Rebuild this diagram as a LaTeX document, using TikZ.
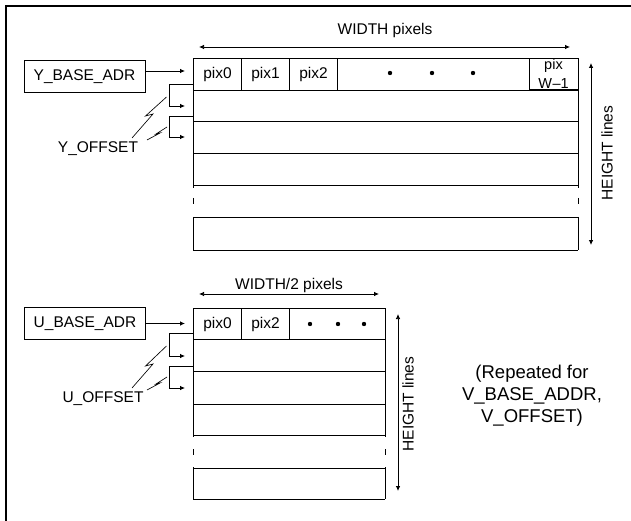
\documentclass[tikz,border=0pt]{standalone}
\usepackage{fontspec}
\setmainfont{Liberation Sans}
\usetikzlibrary{arrows.meta}
\begin{document}
\begin{tikzpicture}[x=1pt,y=-1pt,
  every node/.style={font=\fontsize{15.5}{18}\selectfont, inner sep=0pt},
  ln/.style={line width=1pt},
  cell/.style={draw, ln, anchor=north west, minimum height=32pt},
  basebox/.style={draw, ln, minimum width=121pt, minimum height=32pt},
  arr/.style={line width=0.75pt, -{Latex[length=5pt,width=4.5pt]}},
  darr/.style={line width=0.75pt, {Latex[length=5pt,width=4.5pt]}-{Latex[length=5pt,width=4.5pt]}},
  bolt/.style={line width=0.65pt},
  dotm/.style={fill=black}
]
\useasboundingbox (0,0) rectangle (631,521);
% outer frame
\draw[line width=1.3pt] (6,521) -- (6,6) -- (631,6);

% ================= Y plane =================
\coordinate (ywl) at (199,47);
\coordinate (ywr) at (570,47);
\draw[darr] (ywl) -- (ywr);
\node (ywidth) at (385,30) {WIDTH pixels};

\node[cell, minimum width=48pt] (y0) at (193,58) {pix0};
\node[cell, minimum width=48pt] (y1) at (241,58) {pix1};
\node[cell, minimum width=48pt] (y2) at (289,58) {pix2};
\node[cell, minimum width=192pt] (ydots) at (337,58) {};
\node[cell, minimum width=49pt] (yw) at (529,58) {};
\node[font=\fontsize{14.5}{16}\selectfont] (ywa) at (553.5,66) {pix};
\node[font=\fontsize{14.5}{16}\selectfont] (ywb) at (553.5,84) {W\kern0.5pt--1};
\draw[ln] (529,90) -- (578,90);
\foreach \x in {390,432,473} \fill[dotm] (\x,73) circle (2.2pt);

% rows
\draw[ln] (193,90) -- (193,188);
\draw[ln] (193,198) -- (193,204);
\draw[ln] (193,217) -- (193,250);
\draw[ln] (578,90) -- (578,188);
\draw[ln] (578,198) -- (578,204);
\draw[ln] (578,217) -- (578,250);
\foreach \y in {122,154,186,218,250} \draw[ln] (193,\y) -- (578,\y);

\node[basebox] (ybase) at (84.5,77) {Y\_BASE\_ADR};
\coordinate (yb0) at (185,71);
\draw[arr] (ybase.east |- yb0) -- (yb0);

\coordinate (yo1s) at (193,84);
\coordinate (yo1e) at (185,106);
\draw[arr] (yo1s) -| (169,106) -- (yo1e);
\coordinate (yo2s) at (193,116);
\coordinate (yo2e) at (185,137);
\draw[arr] (yo2s) -| (169,137) -- (yo2e);

\node (yoff) at (98,149) {Y\_OFFSET};
\draw[bolt] (132,138) -- (153,114) -- (145.5,116) -- (166.5,97);
\draw[bolt] (147,140) -- (160,133) -- (156,134) -- (167,127);

\coordinate (yht) at (591,63);
\coordinate (yhb) at (591,245);
\draw[darr] (yht) -- (yhb);
\node[rotate=90] (yhl) at (607,153) {HEIGHT lines};

% ================= U plane =================
\coordinate (uwl) at (199,294);
\coordinate (uwr) at (379,294);
\draw[darr] (uwl) -- (uwr);
\node (uwidth) at (289,285) {WIDTH/2 pixels};

\node[cell, minimum width=48pt, minimum height=31pt] (u0) at (193,308) {pix0};
\node[cell, minimum width=48pt, minimum height=31pt] (u2) at (241,308) {pix2};
\node[cell, minimum width=96pt, minimum height=31pt] (udots) at (289,308) {};
\foreach \x in {310,338,364} \fill[dotm] (\x,324) circle (2.2pt);

\draw[ln] (193,339) -- (193,437);
\draw[ln] (193,449) -- (193,455);
\draw[ln] (193,467) -- (193,499);
\draw[ln] (385,339) -- (385,437);
\draw[ln] (385,449) -- (385,455);
\draw[ln] (385,467) -- (385,499);
\foreach \y in {371,404,435,468,499} \draw[ln] (193,\y) -- (385,\y);

\node[basebox] (ubase) at (85,323.5) {U\_BASE\_ADR};
\coordinate (ub0) at (185,323.5);
\draw[arr] (ubase.east) -- (ub0);

\coordinate (uo1s) at (193,333);
\coordinate (uo1e) at (185,356);
\draw[arr] (uo1s) -| (169,356) -- (uo1e);
\coordinate (uo2s) at (193,366);
\coordinate (uo2e) at (185,388);
\draw[arr] (uo2s) -| (169,388) -- (uo2e);

\node (uoff) at (103,399) {U\_OFFSET};
\draw[bolt] (132,388) -- (153,364) -- (145.5,366) -- (166.5,346);
\draw[bolt] (147,390) -- (160,383) -- (156,384) -- (167,377);

\coordinate (uht) at (398,314);
\coordinate (uhb) at (398,491);
\draw[darr] (uht) -- (uhb);
\node[rotate=90] (uhl) at (408,404) {HEIGHT lines};

\node[align=center, font=\fontsize{18.5}{22}\selectfont] (rep) at (532,396) {(Repeated for\\V\_BASE\_ADDR,\\V\_OFFSET)};
\end{tikzpicture}
\end{document}
